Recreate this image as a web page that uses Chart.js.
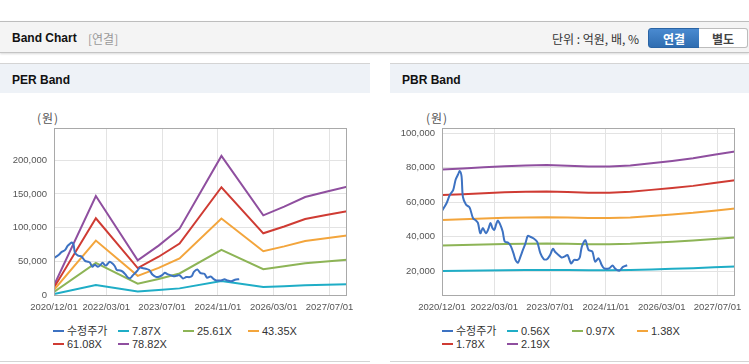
<!DOCTYPE html>
<html><head><meta charset="utf-8">
<script src="https://cdn.jsdelivr.net/npm/chart.js@4/dist/chart.umd.min.js"></script>
<style>
body{margin:0;background:#fff;width:749px;height:364px;overflow:hidden;position:relative;font-family:'Liberation Sans',Arial,'Noto Sans CJK KR',sans-serif;}
.abs{position:absolute;}
#topbar{left:0;top:21px;width:749px;height:30px;background:#f4f4f4;border-top:1px solid #bdbdbd;border-bottom:1px solid #c4c4c4;box-shadow:0 1px 2px rgba(0,0,0,0.15);}
#title{left:12px;top:23px;line-height:31px;font-size:12px;font-weight:bold;color:#111;}
#sub{left:88px;top:23px;line-height:31px;font-size:12px;color:#999;font-family:'Noto Sans CJK KR',sans-serif;}
#unit{left:552px;top:23px;line-height:31px;font-size:12px;color:#333;font-family:'Noto Sans CJK KR',sans-serif;}
.btn{top:28px;height:18px;line-height:19px;font-size:12px;font-weight:bold;text-align:center;font-family:'Noto Sans CJK KR',sans-serif;}
#b1{left:648px;width:50px;background:linear-gradient(#4a8ad0,#2f6db1);border:1px solid #2a64a4;border-radius:3px 0 0 3px;color:#fff;}
#b2{left:699px;width:48px;background:#fff;border:1px solid #bcbcbc;border-left:none;border-radius:0 3px 3px 0;color:#444;}
.phead{top:63px;height:29px;background:#eef2f7;border-top:1px solid #d4d4d4;}
.ptitle{top:65px;line-height:30px;font-size:12px;font-weight:bold;color:#111;}
.bline{top:361px;height:1px;background:#d4d4d4;}
.unitlbl{top:109px;font-size:12px;color:#555;font-family:'Noto Sans CJK KR',sans-serif;letter-spacing:1px;}
canvas{position:absolute;}
.leg{position:absolute;font-size:11px;color:#333;white-space:nowrap;line-height:13px;}
.leg i{display:inline-block;width:11px;height:2px;vertical-align:middle;margin-right:3px;position:relative;top:-1px;}
</style></head>
<body>
<div class="abs" id="topbar"></div>
<div class="abs" id="title">Band Chart</div>
<div class="abs" id="sub">[연결]</div>
<div class="abs" id="unit">단위 : 억원, 배, %</div>
<div class="abs btn" id="b1">연결</div>
<div class="abs btn" id="b2">별도</div>

<div class="abs phead" style="left:0;width:370px;"></div>
<div class="abs ptitle" style="left:12px;">PER Band</div>
<div class="abs phead" style="left:390px;width:359px;"></div>
<div class="abs ptitle" style="left:402px;">PBR Band</div>
<div class="abs bline" style="left:0;width:370px;"></div>
<div class="abs bline" style="left:390px;width:359px;"></div>
<div class="abs unitlbl" style="left:37px;">(원)</div>
<div class="abs unitlbl" style="left:426px;">(원)</div>

<canvas id="per" width="370" height="215" style="left:0;top:100px;width:370px;height:215px;"></canvas>
<canvas id="pbr" width="359" height="215" style="left:390px;top:100px;width:359px;height:215px;"></canvas>
<div id="perLeg"></div>
<div id="pbrLeg"></div>

<script>
// ---------- data ----------
const xTickDates = ['2020-12-01','2022-03-01','2023-07-01','2024-11-01','2026-03-01','2027-07-01'];
const xTickLabels = ['2020/12/01','2022/03/01','2023/07/01','2024/11/01','2026/03/01','2027/07/01'];
const xStart = '2020-12-01';
const xEnd = '2027-12-01';

const priceLabel = '수정주가';
const priceDates = ['2020-12-01','2021-01-10','2021-02-07','2021-03-07','2021-03-28','2021-04-19','2021-05-04','2021-05-19','2021-06-01','2021-06-28','2021-07-28','2021-08-28','2021-09-25','2021-10-10','2021-11-01','2021-11-22','2021-12-19','2022-01-10','2022-01-28','2022-02-15','2022-03-01','2022-03-16','2022-04-01','2022-04-22','2022-05-13','2022-06-01','2022-07-01','2022-07-22','2022-08-16','2022-09-04','2022-09-25','2022-10-16','2022-11-07','2022-11-28','2022-12-19','2023-01-10','2023-02-10','2023-03-10','2023-04-07','2023-05-07','2023-06-04','2023-07-01','2023-07-25','2023-08-13','2023-09-13','2023-10-10','2023-11-04','2023-12-01','2024-01-01','2024-01-28','2024-02-28','2024-03-16','2024-04-04','2024-05-04','2024-06-01','2024-07-04','2024-07-28','2024-08-28','2024-09-25','2024-10-16','2024-11-28','2024-12-28','2025-01-19','2025-02-25','2025-03-28','2025-05-04'];
const priceValues = [55000,59400,64000,67000,73000,76000,78000,75000,63000,58500,57000,50700,49300,48000,42000,45000,42000,44500,48000,45000,44000,47000,49400,47000,43000,37200,36500,34700,30400,26500,25000,28500,32400,36000,40500,40000,39000,37000,30500,27000,27000,29500,33000,31300,29500,28000,28500,29400,24600,26600,26600,28000,34300,38000,32400,31500,25600,27500,23600,21700,21700,23400,21700,20300,22600,23500];

const perLabels = ['7.87X','25.61X','43.35X','61.08X','78.82X'];
const perDates = ['2020-12-01','2021-12-01','2022-12-01','2023-06-01','2023-12-01','2024-12-01','2025-12-01','2026-06-01','2026-12-01','2027-06-01','2027-12-01'];
const per1 = [1417,14678,5155,7319,9838,20619,11805,13103,14536,15315,16039];
const per2 = [4610,47763,16775,23817,32013,67098,38415,42641,47302,49837,52193];
const per3 = [7803,80848,28394,40316,54188,113577,65025,72178,80067,84359,88347];
const per4 = [10994,113914,40007,56804,76350,160030,91620,101698,112815,118862,124481];
const per5 = [14188,146999,51627,73303,98525,206508,118230,131235,145580,153378,160635];
const perYTicks = [0,50000,100000,150000,200000];

const pbrLabels = ['0.56X','0.97X','1.38X','1.78X','2.19X'];
const pbrDates = ['2020-12-01','2021-06-01','2021-12-01','2022-06-01','2022-12-01','2023-06-01','2023-12-01','2024-06-01','2024-12-01','2025-06-01','2025-12-01','2026-06-01','2026-12-01','2027-06-01','2027-12-01'];
const pbr1 = [20160,20330,20500,20660,20780,20830,20720,20610,20610,20780,21110,21450,21840,22340,22850];
const pbr2 = [34920,35210,35500,35790,35990,36080,35890,35700,35700,35990,36570,37150,37830,38700,39580];
const pbr3 = [49680,50090,50510,50920,51200,51340,51060,50780,50780,51200,52030,52850,53820,55060,56300];
const pbr4 = [64080,64610,65150,65680,66040,66220,65860,65500,65500,66040,67110,68170,69420,71020,72620];
const pbr5 = [78840,79500,80150,80810,81250,81470,81030,80590,80590,81250,82560,83880,85410,87380,89350];
const pbrYTicks = [20000,40000,60000,80000,100000];

const colors = ['#3d72c2','#1fadc6','#8db456','#f3a53c','#cf3b33','#8f4f9f'];

// ---------- helpers ----------
function toMonth(s){
  const p = s.split('-').map(Number);
  const b = xStart.split('-').map(Number);
  return (p[0]-b[0])*12 + (p[1]-b[1]) + (p[2]-1)/30;
}
function pts(dates, vals){ return dates.map((d,i)=>({x:toMonth(d), y:vals[i]})); }

Chart.defaults.font.family = "'Liberation Sans', Arial, sans-serif";

const frame = {
  id:'frame',
  afterDatasetsDraw(chart){
    const a = chart.chartArea, c = chart.ctx;
    c.save(); c.strokeStyle = '#a9a9a9'; c.lineWidth = 1;
    c.strokeRect(Math.round(a.left)+0.5, Math.round(a.top)+0.5, Math.round(a.right-a.left)-1, Math.round(a.bottom-a.top));
    c.restore();
  }
};

function makeChart(id, datasets, yMin, yMax, yTicks, yW, padR){
  const xTicks = xTickDates.map(toMonth);
  return new Chart(document.getElementById(id), {
    type:'line',
    data:{datasets},
    options:{
      responsive:false, animation:false, devicePixelRatio:1,
      layout:{padding:{left:0,right:padR,top:28,bottom:0}},
      plugins:{legend:{display:false}, tooltip:{enabled:false}},
      elements:{point:{radius:0}, line:{borderWidth:2, tension:0}},
      scales:{
        x:{type:'linear', min:toMonth(xStart), max:toMonth(xEnd),
          afterBuildTicks:s=>{ s.ticks = xTicks.map(v=>({value:v})); },
          afterFit:s=>{ s.height = 20; },
          grid:{color:'#e3e3e3', drawTicks:false},
          border:{display:false},
          ticks:{autoSkip:false, maxRotation:0, padding:7, color:'#555', font:{size:9.5},
            callback:(v,i)=>xTickLabels[i]}
        },
        y:{type:'linear', min:yMin, max:yMax,
          afterBuildTicks:s=>{ s.ticks = yTicks.map(v=>({value:v})); },
          afterFit:s=>{ s.width = yW; },
          grid:{color:'#e3e3e3', drawTicks:false},
          border:{display:false},
          ticks:{padding:7, color:'#555', font:{size:9.5},
            callback:v=>Number(v).toLocaleString('en-US')}
        }
      }
    },
    plugins:[frame]
  });
}

function ds(label, data, color, tension){
  return {label, data, borderColor:color, backgroundColor:color, borderWidth:2, pointRadius:0, tension:tension||0, fill:false};
}

const perSets = [
  ds(priceLabel, pts(priceDates, priceValues), colors[0], 0.3),
  ds(perLabels[0], pts(perDates, per1), colors[1]),
  ds(perLabels[1], pts(perDates, per2), colors[2]),
  ds(perLabels[2], pts(perDates, per3), colors[3]),
  ds(perLabels[3], pts(perDates, per4), colors[4]),
  ds(perLabels[4], pts(perDates, per5), colors[5])
];
const pbrSets = [
  ds(priceLabel, pts(priceDates, priceValues), colors[0], 0.3),
  ds(pbrLabels[0], pts(pbrDates, pbr1), colors[1]),
  ds(pbrLabels[1], pts(pbrDates, pbr2), colors[2]),
  ds(pbrLabels[2], pts(pbrDates, pbr3), colors[3]),
  ds(pbrLabels[3], pts(pbrDates, pbr4), colors[4]),
  ds(pbrLabels[4], pts(pbrDates, pbr5), colors[5])
];

makeChart('per', perSets, 0, 248000, perYTicks, 54, 23);
makeChart('pbr', pbrSets, 6300, 102900, pbrYTicks, 52, 12);

function legend(el, sets, x0){
  const box = document.getElementById(el);
  sets.forEach((s,i)=>{
    const d = document.createElement('div');
    d.className = 'leg';
    d.style.left = (x0 + (i%4)*65) + 'px';
    d.style.top = (i<4 ? 325 : 338) + 'px';
    d.innerHTML = '<i style="background:'+s.borderColor+'"></i>' + s.label;
    box.appendChild(d);
  });
}
legend('perLeg', perSets, 53);
legend('pbrLeg', pbrSets, 442);
</script>
</body></html>
